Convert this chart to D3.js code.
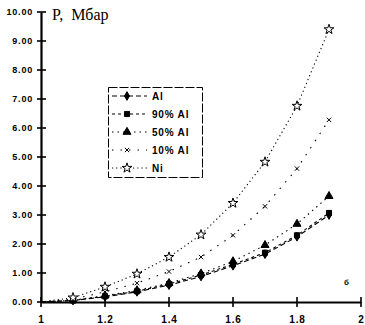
<!DOCTYPE html>
<html><head><meta charset="utf-8">
<script src="https://cdn.jsdelivr.net/npm/d3@7"></script>
<style>body{margin:0;background:#fff}svg{display:block}</style>
</head><body>
<svg id="c" width="365" height="325"></svg>
<script>
const xs = [1.0, 1.1, 1.2, 1.3, 1.4, 1.5, 1.6, 1.7, 1.8, 1.9];
const seriesNames = ["Al", "90% Al", "50% Al", "10% Al", "Ni"];
const al    = [0, 0.05, 0.18, 0.35, 0.58, 0.88, 1.25, 1.65, 2.25, 3.00];
const al90  = [0, 0.05, 0.20, 0.37, 0.62, 0.93, 1.30, 1.70, 2.30, 3.07];
const al50  = [0, 0.06, 0.22, 0.40, 0.65, 0.98, 1.40, 1.96, 2.69, 3.65];
const al10  = [0, 0.10, 0.35, 0.65, 1.05, 1.55, 2.30, 3.30, 4.60, 6.28];
const ni    = [0, 0.15, 0.52, 0.97, 1.55, 2.32, 3.41, 4.83, 6.76, 9.40];
const yTicks = [0,1,2,3,4,5,6,7,8,9,10];
const xTicks = [1, 1.2, 1.4, 1.6, 1.8, 2];
const xTickLabels = ["1", "1.2", "1.4", "1.6", "1.8", "2"];

const svg = d3.select("#c");
const x = d3.scaleLinear().domain([1, 2]).range([41, 361]);
const y = d3.scaleLinear().domain([0, 10]).range([302, 12]);

// y axis
const ya = svg.append("g").attr("transform", "translate(41,0)")
  .call(d3.axisLeft(y).tickValues(yTicks).tickFormat(d3.format(".2f")).tickSize(0).tickPadding(8));
ya.select(".domain").attr("stroke", "#000").attr("stroke-width", 2.2);
ya.selectAll("text").attr("font-family", "Liberation Sans, Arial, sans-serif")
  .attr("font-size", 9).attr("font-weight", "bold").attr("fill", "#000").attr("letter-spacing", "0.8");
svg.append("g").selectAll("line").data(yTicks).join("line")
  .attr("x1", 37).attr("x2", 46).attr("y1", d => y(d)).attr("y2", d => y(d))
  .attr("stroke", "#000").attr("stroke-width", 1.6);

// x axis
const xa = svg.append("g").attr("transform", "translate(0,302)")
  .call(d3.axisBottom(x).tickValues(xTicks).tickFormat((d, i) => xTickLabels[i]).tickSize(0).tickPadding(14));
xa.select(".domain").attr("stroke", "#000").attr("stroke-width", 2.2);
xa.selectAll("text").attr("font-family", "Liberation Sans, Arial, sans-serif")
  .attr("font-size", 10).attr("font-weight", "bold").attr("fill", "#000").attr("letter-spacing", "0.8");
svg.append("g").selectAll("line").data(xTicks).join("line")
  .attr("y1", 297).attr("y2", 307).attr("x1", d => x(d)).attr("x2", d => x(d))
  .attr("stroke", "#000").attr("stroke-width", 1.6);

// title
svg.append("text").attr("x", 52).attr("y", 20).attr("font-family", "Liberation Serif, DejaVu Serif, serif")
  .attr("font-size", 16).attr("fill", "#000").attr("xml:space", "preserve").text("P,  Мбар");

// series
const series = [
  {name: seriesNames[0], v: al,   dash: "5,3", sym: d3.symbolDiamond, size: 22, fill: "#000", sw: 1},
  {name: seriesNames[1], v: al90, dash: "3,3", sym: d3.symbolSquare,  size: 26, fill: "#000", sw: 1},
  {name: seriesNames[2], v: al50, dash: "1.5,4", sym: d3.symbolTriangle, size: 28, fill: "#000", sw: 1},
  {name: seriesNames[3], v: al10, dash: "1.5,7", sym: d3.symbolTimes, size: 14, fill: "none", sw: 1},
  {name: seriesNames[4], v: ni,   dash: "1.2,3", sym: d3.symbolStar, size: 30, fill: "#fff", sw: 1}
];
const line = d3.line().x(d => x(d[0])).y(d => y(d[1]));
series.forEach(s => {
  const pts = xs.map((xv, i) => [xv, s.v[i]]);
  svg.append("path").attr("d", line(pts)).attr("fill", "none").attr("stroke", "#000")
    .attr("stroke-width", 1.1).attr("stroke-dasharray", s.dash);
  svg.append("g").selectAll("path").data(pts.slice(1)).join("path")
    .attr("transform", d => `translate(${x(d[0])},${y(d[1])})`)
    .attr("d", d3.symbol().type(s.sym).size(s.size))
    .attr("fill", s.fill).attr("stroke", "#000").attr("stroke-width", s.sw);
});

// legend
const lg = svg.append("g");
lg.append("rect").attr("x", 108.5).attr("y", 87.5).attr("width", 94).attr("height", 90)
  .attr("fill", "#fff").attr("stroke", "#000").attr("stroke-width", 1).attr("stroke-dasharray", "9,2");
const rowsY = [96, 114, 132, 150, 168];
series.forEach((s, i) => {
  const ry = rowsY[i];
  lg.append("line").attr("x1", 112).attr("x2", 147).attr("y1", ry).attr("y2", ry)
    .attr("stroke", "#000").attr("stroke-width", 1).attr("stroke-dasharray", s.dash);
  lg.append("path").attr("transform", `translate(127,${ry})`)
    .attr("d", d3.symbol().type(s.sym).size(s.size))
    .attr("fill", s.fill).attr("stroke", "#000").attr("stroke-width", s.sw);
  lg.append("text").attr("x", 152).attr("y", ry + 3.5).attr("font-family", "Liberation Sans, Arial, sans-serif")
    .attr("font-size", 10).attr("font-weight", "bold").attr("letter-spacing", "0.8").attr("fill", "#000")
    .text(s.name);
});

// small panel label
svg.append("text").attr("x", 344).attr("y", 285).attr("font-family", "Liberation Sans, Arial, sans-serif")
  .attr("font-size", 8).attr("font-weight", "bold").attr("fill", "#000").text("б");
</script>
</body></html>
